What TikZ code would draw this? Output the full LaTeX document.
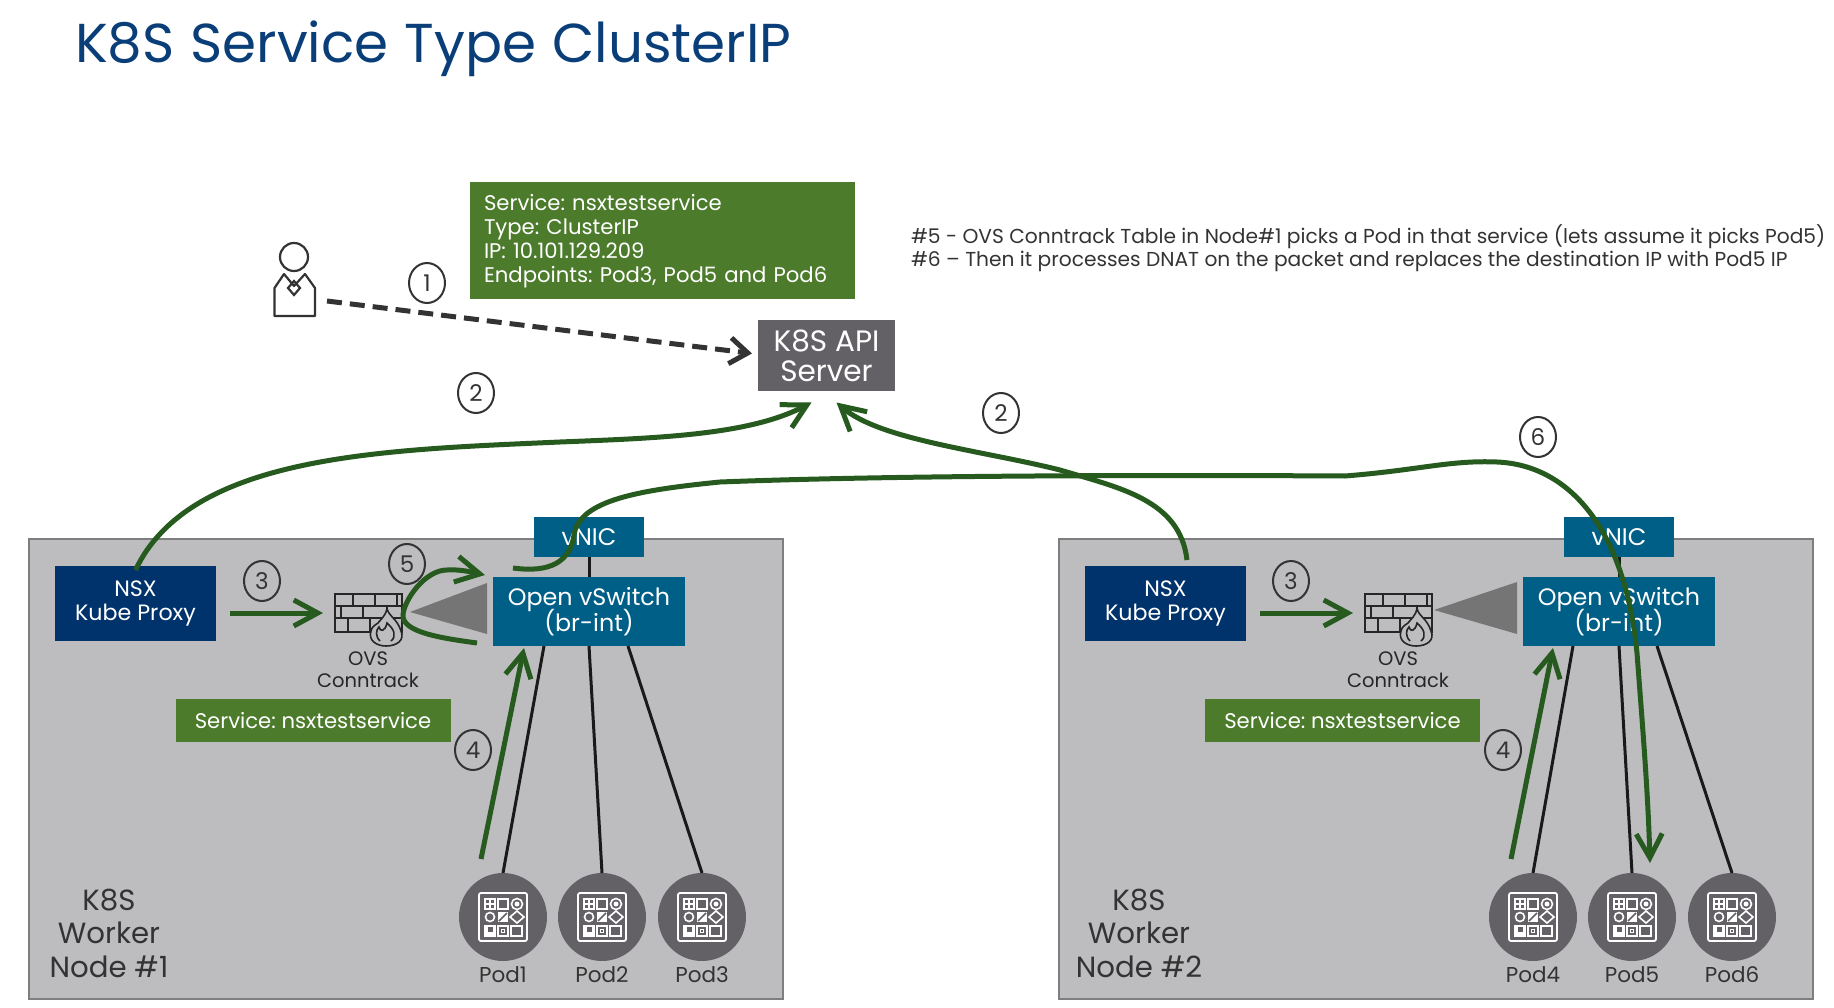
\documentclass[tikz,border=0pt]{standalone}
\usepackage{fontspec}
\usepackage{xcolor}
\setmainfont{Poppins}
\newfontfamily\titlefont[WordSpace=1.1]{Poppins}
\usetikzlibrary{shapes.geometric,arrows.meta,positioning}

\definecolor{titleblue}{HTML}{0A3E78}
\definecolor{nsxblue}{HTML}{00336B}
\definecolor{ovsblue}{HTML}{005F87}
\definecolor{infogreen}{HTML}{4B7B2B}
\definecolor{flowgreen}{HTML}{265A1E}
\definecolor{podgray}{HTML}{636166}
\definecolor{workerfill}{HTML}{BDBDBF}
\definecolor{workerline}{HTML}{7E7E7E}
\definecolor{inkgray}{HTML}{333333}
\newcommand{\pxfont}[2]{\fontsize{#1}{#2}\selectfont\frenchspacing\lineskiplimit=-100pt\relax}

\tikzset{
    podicon/.pic={
        \draw[white, line width=1.8pt, rounded corners=2pt] (-24,-24) rectangle (24,24);
        \begin{scope}[white, line width=1.6pt]
            % top row
            \draw (-18,-18) rectangle (-8,-8);
            \draw (-13,-18) -- (-13,-8) (-18,-13) -- (-8,-13);
            \draw (-5,-18) rectangle (5,-8);
            \draw (14,-13) circle (5.5pt);
            \fill (14,-13) circle (2.5pt);
            % middle row
            \draw (-13,0) circle (4.5pt);
            \fill (-5,-5) rectangle (5,5);
            \draw[podgray] (-4,4) -- (4,-4);
            \draw (14,-6) -- (21,0) -- (14,6) -- (7,0) -- cycle;
            % bottom row
            \fill (-18,9) rectangle (-8,19);
            \fill[podgray] (-15,10) rectangle (-10,15);
            \fill[white] (-18,9) rectangle (-16,19);
            \draw (-18,9) rectangle (-8,19);
            \draw (-5,9) rectangle (5,19);
            \fill (-2,12) rectangle (2,16);
            \fill[podgray] (-1,13) rectangle (1,15);
            \draw (8,9) rectangle (19,19);
        \end{scope}
    },
    firewall/.pic={
        \begin{scope}[black!85, line width=1.6pt]
            \draw (0,0) rectangle (67,38);
            \draw (0,12) -- (67,12) (0,24) -- (67,24);
            \draw (18,0) -- (18,12) (40,0) -- (40,12) (62,0) -- (62,12);
            \draw (6,12) -- (6,24) (28,12) -- (28,24) (52,12) -- (52,24);
            \draw (13,24) -- (13,38) (35,24) -- (35,38);
            \draw[fill=workerfill] (52,14) .. controls (53,22) and (62,24) .. (66,37)
                .. controls (70,46) and (62,52) .. (51,52)
                .. controls (41,52) and (33,46) .. (36,37)
                .. controls (38,30) and (41,32) .. (43,29)
                .. controls (45,26) and (51,22) .. (52,14) -- cycle;
            \draw (45,47) .. controls (40,42) and (41,36) .. (44,33)
                .. controls (45,38) and (50,38) .. (52,29)
                .. controls (59,35) and (62,42) .. (56,47);
        \end{scope}
    }
}

\begin{document}
\begin{tikzpicture}[
    x=1pt, y=-1pt,
    every node/.style={outer sep=0pt},
    worker/.style={rectangle, draw=workerline, fill=workerfill, line width=2pt},
    infobox/.style={rectangle, fill=infogreen, text=white, font=\pxfont{21.2}{24}},
    ovs/.style={rectangle, fill=ovsblue, text=white, align=center, minimum width=192pt, minimum height=69pt, font=\pxfont{23.8}{26}},
    vnic/.style={rectangle, fill=ovsblue, text=white, minimum width=110pt, minimum height=40pt, font=\pxfont{24}{26}},
    nsx/.style={rectangle, fill=nsxblue, text=white, align=center, minimum width=161pt, minimum height=75pt, font=\pxfont{22.2}{24}},
    svc/.style={infobox, minimum width=275pt, minimum height=43pt},
    pod/.style={circle, fill=podgray, minimum size=88pt, inner sep=0pt},
    podname/.style={text=inkgray, inner sep=0pt, font=\pxfont{21.5}{22}},
    num/.style={ellipse, draw=inkgray, line width=2pt, text=inkgray, minimum width=36pt, minimum height=40pt, inner sep=0pt, font=\pxfont{23}{24}},
    workername/.style={text=inkgray, align=center, font=\pxfont{29.2}{33.5}},
    fwbox/.style={minimum width=67pt, minimum height=38pt, inner sep=0pt},
    fwname/.style={text=black!85, align=center, font=\pxfont{19.5}{22}},
    wedge/.style={fill=black!54},
    wire/.style={black!90, line width=3pt},
    flow/.style={draw=flowgreen, line width=5pt, -{Straight Barb[length=24pt, width=26pt]}}
]
\useasboundingbox (0,0) rectangle (1834,1008);

% Title
\node[anchor=west, inner sep=0pt, text=titleblue, font=\titlefont\pxfont{54.8}{60}] (title) at (75,49) {K8S Service Type ClusterIP};

% Notes
\node[anchor=west, inner sep=0pt, align=left, text=inkgray, font=\pxfont{20.2}{23}] (notes) at (911,248) {\#5 - OVS Conntrack Table in Node\#1 picks a Pod in that service (lets assume it picks Pod5)\\\#6 – Then it processes DNAT on the packet and replaces the destination IP with Pod5 IP};

% Service box and API server
\node[infobox, align=left, text width=357pt, inner xsep=14pt, minimum height=117pt] (svcinfo) at (662.5,241) {Service: nsxtestservice\\Type: ClusterIP\\IP: 10.101.129.209\\Endpoints: Pod3, Pod5 and Pod6};
\node[rectangle, fill=podgray, text=white, align=center, minimum width=137pt, minimum height=70pt, font=\pxfont{29.5}{30}] (api) at (826.5,355.5) {K8S API\\Server};

% User
\node[minimum width=41pt, minimum height=73pt, inner sep=0pt] (user) at (294.5,280) {};
\draw[inkgray, line width=2.2pt] (294,257) circle (14pt);
\draw[inkgray, line width=2.2pt, line join=round] (284,274) -- (274.5,288) -- (274.5,316) -- (315,316) -- (315,288) -- (305,274) -- (294,286) -- cycle;
\draw[inkgray, line width=2.2pt] (294,281) -- (300,288) -- (294,295) -- (288,288) -- cycle;

% Worker nodes
\draw[worker] (29,539) rectangle (782.5,999);
\draw[worker] (1058.5,539) rectangle (1813,999);
\node[workername] (workera) at (109,933) {K8S\\Worker\\Node \#1};
\node[workername] (workerb) at (1139,933) {K8S\\Worker\\Node \#2};

% Node 1
\node[nsx] (nsxa) at (135.5,603.5) {NSX\\Kube Proxy};
\node[ovs] (ovsa) at (589,611.5) {Open vSwitch\\(br-int)};
\node[vnic, above=20pt of ovsa] (vnica) {vNIC};
\node[svc] (svca) at (313,720.5) {Service: nsxtestservice};
\node[fwbox] (fwa) at (368.5,613) {};
\pic at (fwa.north west) {firewall};
\node[fwname] (fwnamea) at (368,670) {OVS\\Conntrack};
\fill[wedge] (410,612) -- (487,583) -- (487,634) -- cycle;

% Node 2
\node[nsx] (nsxb) at (1165.5,603.5) {NSX\\Kube Proxy};
\node[ovs] (ovsb) at (1619,611.5) {Open vSwitch\\(br-int)};
\node[vnic, above=20pt of ovsb] (vnicb) {vNIC};
\node[svc] (svcb) at (1342.5,720.5) {Service: nsxtestservice};
\node[fwbox] (fwb) at (1398.5,613) {};
\pic at (fwb.north west) {firewall};
\node[fwname] (fwnameb) at (1398,670) {OVS\\Conntrack};
\fill[wedge] (1434,610) -- (1517,582) -- (1517,634) -- cycle;

% Pods
\node[pod] (poda) at (503,917) {};
\node[pod, right=11pt of poda] (podb) {};
\node[pod, right=12pt of podb] (podc) {};
\node[pod] (podd) at (1533,917) {};
\node[pod, right=11pt of podd] (pode) {};
\node[pod, right=12pt of pode] (podf) {};
\pic at (poda) {podicon};
\pic at (podb) {podicon};
\pic at (podc) {podicon};
\pic at (podd) {podicon};
\pic at (pode) {podicon};
\pic at (podf) {podicon};
\node[podname, below=6pt of poda] (podnamea) {Pod1};
\node[podname, below=6pt of podb] (podnameb) {Pod2};
\node[podname, below=6pt of podc] (podnamec) {Pod3};
\node[podname, below=6pt of podd] (podnamed) {Pod4};
\node[podname, below=6pt of pode] (podnamee) {Pod5};
\node[podname, below=6pt of podf] (podnamef) {Pod6};

% Wires
\draw[wire] (vnica) -- (ovsa);
\draw[wire] ([xshift=-45pt]ovsa.south) -- (poda.north);
\draw[wire] (ovsa.south) -- (podb.north);
\draw[wire] ([xshift=39pt]ovsa.south) -- (podc.north);
\draw[wire] (vnicb) -- (ovsb);
\draw[wire] ([xshift=-46pt]ovsb.south) -- (podd.north);
\draw[wire] (ovsb.south) -- (pode.north);
\draw[wire] ([xshift=38pt]ovsb.south) -- (podf.north);

% Numbers
\node[num] (numone) at (427,283) {1};
\node[num] (numtwoa) at (476,393) {2};
\node[num] (numtwob) at (1001,413) {2};
\node[num] (numthreea) at (262,581) {3};
\node[num] (numthreeb) at (1291,581) {3};
\node[num] (numfoura) at (473,750) {4};
\node[num] (numfourb) at (1503,750) {4};
\node[num] (numfive) at (407,564) {5};
\node[num] (numsix) at (1538,437) {6};

% Free ends
\coordinate (userout) at (327,301);
\coordinate (twobout) at (1187,560);
\coordinate (threeaout) at (230,613);
\coordinate (threebout) at (1260,613);
\coordinate (fiveout) at (477,643);

% Arrows
\draw[inkgray, line width=5pt, dash pattern=on 15pt off 8pt, -{Straight Barb[length=18pt, width=26pt]}] (userout) -- ([xshift=-6pt, yshift=2pt]api.west);
\draw[flow] ([yshift=-4pt]nsxa.north) .. controls (190,455) and (380,450) .. (560,442) .. controls (660,438) and (750,435) .. ([xshift=-15pt, yshift=-12pt]api.south);
\draw[flow] (twobout) .. controls (1180,500) and (1120,488) .. (1060,470) .. controls (980,450) and (880,440) .. ([xshift=10pt, yshift=-12pt]api.south);
\draw[flow] (threeaout) -- ([xshift=-12pt]fwa.west);
\draw[flow] (threebout) -- ([xshift=-12pt]fwb.west);
\draw[flow] ([xshift=-22pt, yshift=14pt]poda.north) -- ([xshift=-65pt, yshift=-2pt]ovsa.south);
\draw[flow] ([xshift=-22pt, yshift=14pt]podd.north) -- ([xshift=-66pt, yshift=-2pt]ovsb.south);
\draw[flow] (fiveout) .. controls (440,638) and (402,632) .. (403,615) .. controls (404,600) and (425,570) .. (447,570) .. controls (462,569) and (475,573) .. ([xshift=-8pt, yshift=2pt]ovsa.north west);
\draw[flow] ([xshift=-76pt, yshift=9pt]ovsa.north) .. controls (550,573) and (570,562) .. (574,535) .. controls (579,500) and (640,490) .. (720,482) .. controls (900,475) and (1170,475) .. (1345,476) .. controls (1420,470) and (1450,460) .. (1497,462) .. controls (1570,465) and (1625,530) .. (1637,653) .. controls (1642,720) and (1648,790) .. ([xshift=18pt, yshift=10pt]pode.north);

\end{tikzpicture}
\end{document}
